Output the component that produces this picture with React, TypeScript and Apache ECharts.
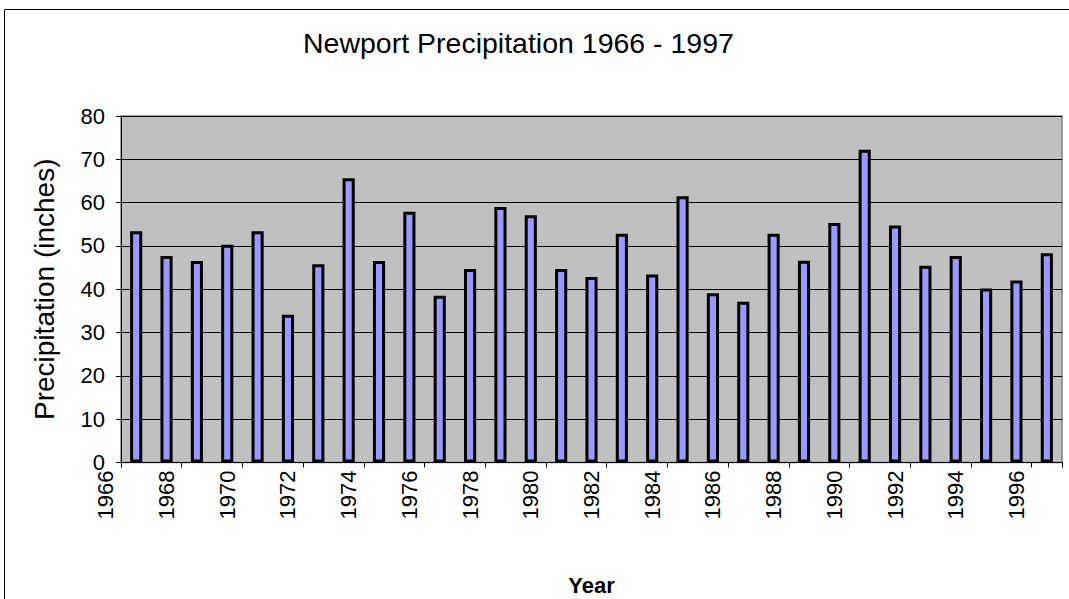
import React, { useEffect, useRef } from "react";
import * as echarts from "echarts";

// Annual precipitation at Newport, in inches
const years: string[] = [
  "1967", "1968", "1969", "1970", "1971", "1972", "1973", "1974", "1975", "1976",
  "1977", "1978", "1979", "1980", "1981", "1982", "1983", "1984", "1985", "1986",
  "1987", "1988", "1989", "1990", "1991", "1992", "1993", "1994", "1995", "1996",
  "1997",
];
const precipitation: number[] = [
  53.4, 47.7, 46.5, 50.3, 53.4, 34.1, 45.8, 65.6, 46.5, 57.9,
  38.5, 44.7, 59.0, 57.1, 44.7, 42.8, 52.8, 43.4, 61.5, 39.1,
  37.1, 52.8, 46.6, 55.3, 72.2, 54.7, 45.4, 47.7, 40.2, 42.0,
  48.3,
];
// Year labels run one slot ahead of the bars, starting at 1966
const labelYears: string[] = [
  "1966", "1967", "1968", "1969", "1970", "1971", "1972", "1973", "1974", "1975",
  "1976", "1977", "1978", "1979", "1980", "1981", "1982", "1983", "1984", "1985",
  "1986", "1987", "1988", "1989", "1990", "1991", "1992", "1993", "1994", "1995",
  "1996", "1997",
];
const yTicks = { min: 0, max: 80, interval: 10 };

const FONT = "'Liberation Sans', Arial, sans-serif";
const W = 1069;
const H = 599;
const PLOT_LEFT = 121;
const PLOT_RIGHT = 1062;
const PLOT_TOP = 116;
const PLOT_BOTTOM = 462.5;

export default function App() {
  const ref = useRef<HTMLDivElement>(null);

  useEffect(() => {
    if (!ref.current) return;
    const chart = echarts.init(ref.current, null, { renderer: "svg" });
    const slot = (PLOT_RIGHT - PLOT_LEFT) / years.length;

    chart.setOption({
      animation: false,
      backgroundColor: "#ffffff",
      textStyle: { fontFamily: FONT },
      title: {
        text: "Newport Precipitation 1966 - 1997",
        left: 303,
        top: 28,
        padding: 0,
        textStyle: { fontFamily: FONT, fontSize: 28.5, fontWeight: "normal", color: "#000" },
      },
      graphic: [
        {
          type: "rect",
          shape: { x: 4.5, y: 9.5, width: W + 20, height: H + 20 },
          style: { fill: "none", stroke: "#000", lineWidth: 1 },
          silent: true,
          z: -1,
        },
      ],
      grid: [
        {
          left: PLOT_LEFT,
          top: PLOT_TOP,
          width: PLOT_RIGHT - PLOT_LEFT,
          height: PLOT_BOTTOM - PLOT_TOP,
          outerBoundsMode: "none",
          containLabel: false,
          show: true,
          backgroundColor: "#C0C0C0",
          borderColor: "#808080",
          borderWidth: 1.5,
        },
        {
          left: PLOT_LEFT - slot,
          top: PLOT_TOP,
          width: PLOT_RIGHT - PLOT_LEFT + slot,
          height: PLOT_BOTTOM - PLOT_TOP,
          outerBoundsMode: "none",
          containLabel: false,
          show: false,
        },
      ],
      xAxis: [
        {
          type: "category",
          gridIndex: 0,
          data: years,
          axisLine: { lineStyle: { color: "#000", width: 1 } },
          axisTick: { show: true, length: 5, lineStyle: { color: "#000" } },
          axisLabel: { show: false },
          splitLine: { show: false },
          name: "Year",
          nameLocation: "middle",
          nameGap: 112,
          nameTextStyle: { fontFamily: FONT, fontSize: 22, fontWeight: "bold", color: "#000" },
        },
        {
          type: "category",
          gridIndex: 1,
          data: labelYears,
          axisLine: { show: false },
          axisTick: { show: false },
          splitLine: { show: false },
          axisLabel: {
            interval: 1,
            rotate: 90,
            margin: 8,
            fontFamily: FONT,
            fontSize: 22,
            color: "#000",
          },
        },
      ],
      yAxis: [
        {
          type: "value",
          gridIndex: 0,
          min: yTicks.min,
          max: yTicks.max,
          interval: yTicks.interval,
          axisLine: { show: true, lineStyle: { color: "#000", width: 1 } },
          axisTick: { show: true, length: 5, lineStyle: { color: "#000" } },
          axisLabel: { margin: 16, fontFamily: FONT, fontSize: 22, color: "#000" },
          splitLine: { show: true, lineStyle: { color: "#000", width: 1 } },
          name: "Precipitation (inches)",
          nameLocation: "middle",
          nameGap: 63,
          nameTextStyle: { fontFamily: FONT, fontSize: 28, color: "#000" },
        },
        {
          type: "value",
          gridIndex: 1,
          min: yTicks.min,
          max: yTicks.max,
          show: false,
        },
      ],
      series: [
        {
          type: "bar",
          xAxisIndex: 0,
          yAxisIndex: 0,
          data: precipitation,
          barWidth: "40%",
          itemStyle: { color: "#9999FF", borderColor: "#000", borderWidth: 3 },
        },
      ],
    });

    return () => chart.dispose();
  }, []);

  return (
    <div
      ref={ref}
      style={{ position: "fixed", left: 0, top: 0, width: W, height: H, background: "#fff" }}
    />
  );
}
